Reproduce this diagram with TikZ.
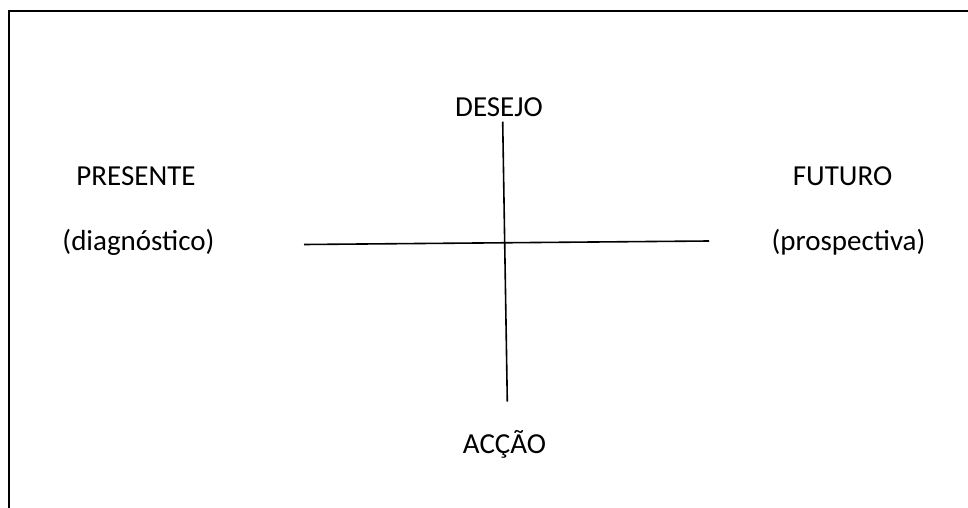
\documentclass[tikz,border=0pt]{standalone}
\usepackage{fontspec}
\setmainfont{Carlito}
\usetikzlibrary{positioning}
\tikzset{
  every node/.style={font=\fontsize{29}{34}\selectfont, inner sep=0pt},
  word/.style={anchor=base, text=black},
  axis/.style={line width=1.6pt, draw=black},
  frame/.style={line width=2.4pt, draw=black},
}
\begin{document}
\begin{tikzpicture}[x=1pt, y=-1pt]
\useasboundingbox (0,0) rectangle (968,508);
% frame
\draw[frame] (9,520) -- (9,11) -- (980,11);
% axes
\coordinate (left) at (304,244.5);
\coordinate (right) at (709,241);
\coordinate (top) at (502.7,121.7);
\coordinate (bottom) at (507.3,401.7);
\draw[axis] (left) -- (right);
\draw[axis] (top) -- (bottom);
% labels
\node[word] (desejo) at (499,117) {DESEJO};
\node[word] (accao) at (504.5,453) {ACÇÃO};
\node[word] (presente) at (136,185) {PRESENTE};
\node[word] (diag) at (138.5,250) {(diagnóstico)};
\node[word] (futuro) at (842.5,185) {FUTURO};
\node[word] (prosp) at (848.5,250) {(prospectiva)};
\end{tikzpicture}
\end{document}
